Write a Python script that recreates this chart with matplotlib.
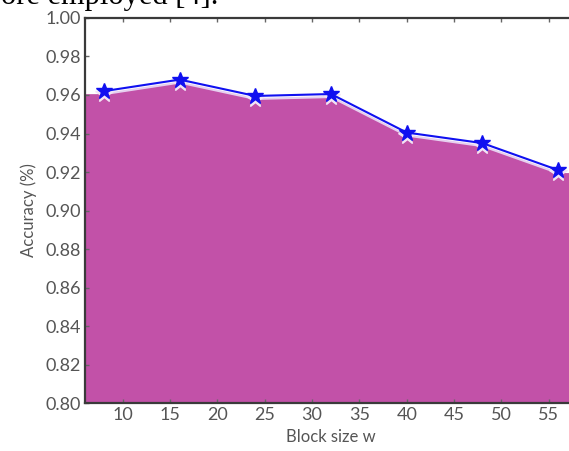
import matplotlib
matplotlib.use("Agg")
import matplotlib.pyplot as plt
from matplotlib.transforms import offset_copy

# block size w vs accuracy
block_size = [8, 16, 24, 32, 40, 48, 56]
accuracy = [0.962, 0.968, 0.9595, 0.9605, 0.9405, 0.935, 0.921]

x_ticks = [10, 15, 20, 25, 30, 35, 40, 45, 50, 55]
y_ticks = [0.80, 0.82, 0.84, 0.86, 0.88, 0.90, 0.92, 0.94, 0.96, 0.98, 1.00]

fill_color = "#c251a8"
line_color = "#1010f0"
text_color = "#555555"
spine_color = "#3a3a3a"

fig = plt.figure(figsize=(5.69, 4.51), dpi=100)
# axes run off the right edge, like the cropped screenshot
ax = fig.add_axes([0.1494, 0.1064, 0.8647, 0.8537])
ax.set_xlim(6, 58)
ax.set_ylim(0.80, 1.00)

# the shaded area reaches the axes edges on both sides
x0, x1 = ax.get_xlim()
fill_x = [x0] + block_size + [x1]
fill_y = [accuracy[0]] + accuracy + [accuracy[-1]]
shadow = offset_copy(ax.transData, fig=fig, x=0, y=-3, units="dots")
ax.fill_between(fill_x, fill_y, 0.70, color=fill_color, linewidth=0,
                transform=shadow, zorder=1)

# light copy of the line, shifted a few pixels down
ax.plot(block_size, accuracy, color="#e6d0ef", lw=1.5, marker="*", ms=13,
        mec="#f2e6f5", mfc="#f2e6f5", transform=shadow, zorder=2)
ax.plot(block_size, accuracy, color=line_color, lw=1.5, marker="*", ms=12,
        mec=line_color, mfc=line_color, zorder=3)

ax.set_xticks(x_ticks)
ax.set_yticks(y_ticks)
ax.set_yticklabels([f"{v:.2f}" for v in y_ticks])

font = "Lato"
for lab in ax.get_xticklabels() + ax.get_yticklabels():
    lab.set_fontfamily(font)
    lab.set_fontsize(13)
    lab.set_color(text_color)

ax.tick_params(direction="in", length=3, width=1, color="#666666",
               top=True, right=True, pad=3)
for s in ax.spines.values():
    s.set_color(spine_color)
    s.set_linewidth(1.6)
    s.set_zorder(4)

ax.set_xlabel("Block size w", fontfamily=font, fontsize=12, color=text_color, labelpad=4)
ax.set_ylabel("Accuracy (%)", fontfamily=font, fontsize=12, color=text_color, labelpad=6)

# tail of the paper text cropped at the top of the screenshot
fig.text(0.383, 0.992, "ore employed [4].", fontfamily="Liberation Serif",
         fontsize=22, color="black", va="baseline", ha="right")

fig.savefig("out.png", dpi=100)
